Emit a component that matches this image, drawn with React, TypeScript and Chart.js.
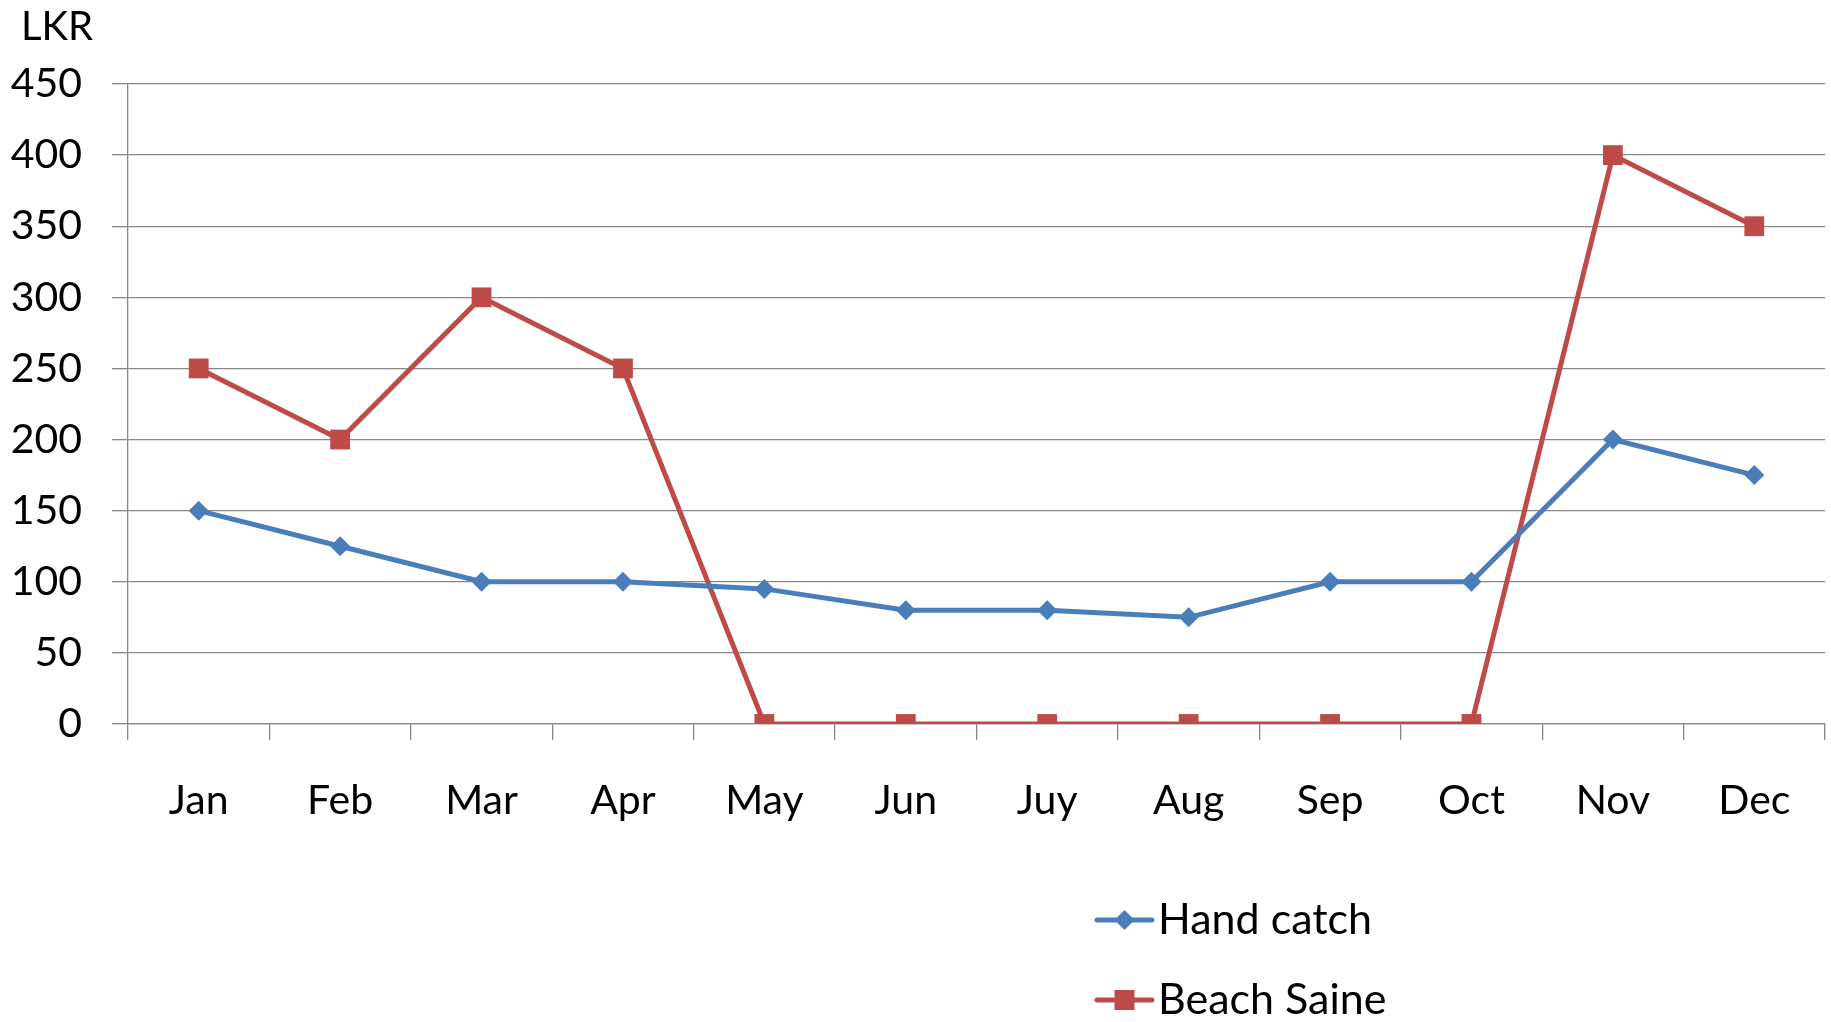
import React, { useEffect, useRef } from "react";
import { Chart, registerables } from "chart.js";

Chart.register(...registerables);

const months = ["Jan", "Feb", "Mar", "Apr", "May", "Jun", "Juy", "Aug", "Sep", "Oct", "Nov", "Dec"];
const handCatch = [150, 125, 100, 100, 95, 80, 80, 75, 100, 100, 200, 175];
const beachSaine = [250, 200, 300, 250, 0, 0, 0, 0, 0, 0, 400, 350];
const seriesNames = ["Hand catch", "Beach Saine"];
const yTitle = "LKR";

const BLUE = "#4A7EBB";
const RED = "#BE4B48";
const GRID = "#878787";
const FONT = "Lato, 'Noto Sans', sans-serif";

const W = 1831;
const H = 1022;

const extrasPlugin = {
  id: "extras",
  afterDraw(chart: any) {
    const ctx = chart.ctx;
    ctx.save();
    // axis unit label
    ctx.fillStyle = "#000";
    ctx.font = `40px ${FONT}`;
    ctx.textAlign = "left";
    ctx.textBaseline = "middle";
    ctx.fillText(yTitle, 21, 27);

    // stacked legend
    const rows = [920, 1000];
    chart.data.datasets.forEach((ds: any, i: number) => {
      const y = rows[i];
      const x0 = 1097;
      const x1 = 1152;
      ctx.strokeStyle = ds.borderColor;
      ctx.lineWidth = 5;
      ctx.lineCap = "round";
      ctx.beginPath();
      ctx.moveTo(x0, y);
      ctx.lineTo(x1, y);
      ctx.stroke();
      ctx.fillStyle = ds.borderColor;
      const cx = (x0 + x1) / 2;
      ctx.beginPath();
      if (ds.pointStyle === "rectRot") {
        const r = 10;
        ctx.moveTo(cx - r, y);
        ctx.lineTo(cx, y - r);
        ctx.lineTo(cx + r, y);
        ctx.lineTo(cx, y + r);
        ctx.closePath();
      } else {
        const s = 10;
        ctx.rect(cx - s, y - s, 2 * s, 2 * s);
      }
      ctx.fill();
      ctx.fillStyle = "#000";
      ctx.font = `43px ${FONT}`;
      ctx.textAlign = "left";
      ctx.textBaseline = "middle";
      ctx.fillText(ds.label, 1158, y);
    });
    ctx.restore();
  },
};

export default function App() {
  const ref = useRef<HTMLCanvasElement | null>(null);

  useEffect(() => {
    if (!ref.current) return;
    const chart = new Chart(ref.current, {
      type: "line",
      data: {
        labels: months,
        datasets: [
          {
            label: seriesNames[0],
            data: handCatch,
            borderColor: BLUE,
            backgroundColor: BLUE,
            borderWidth: 5,
            pointStyle: "rectRot",
            pointRadius: 10,
            pointBorderWidth: 0,
            pointBackgroundColor: BLUE,
            tension: 0,
          },
          {
            label: seriesNames[1],
            data: beachSaine,
            borderColor: RED,
            backgroundColor: RED,
            borderWidth: 5,
            pointStyle: "rect",
            pointRadius: 14,
            pointBorderWidth: 0,
            pointBackgroundColor: RED,
            tension: 0,
          },
        ],
      },
      options: {
        responsive: false,
        animation: false,
        layout: { autoPadding: false, padding: { left: 0, top: 84, right: 6, bottom: 178 } },
        plugins: {
          legend: { display: false },
          tooltip: { enabled: false },
          title: { display: false },
        },
        scales: {
          x: {
            type: "category",
            offset: true,
            afterFit(scale: any) {
              scale.height = 120;
              scale.paddingLeft = 0;
              scale.paddingRight = 0;
            },
            grid: {
              display: true,
              drawOnChartArea: false,
              drawTicks: true,
              tickLength: 16,
              offset: true,
              color: GRID,
              lineWidth: 1.3,
            },
            border: { display: true, color: GRID, width: 1.3 },
            ticks: {
              color: "#000",
              font: { family: FONT, size: 41 },
              padding: 36,
              maxRotation: 0,
              autoSkip: false,
            },
          },
          y: {
            min: 0,
            max: 450,
            afterFit(scale: any) {
              scale.width = 128;
              scale.paddingTop = 0;
              scale.paddingBottom = 0;
            },
            grid: {
              color: GRID,
              lineWidth: 1.3,
              drawTicks: true,
              tickLength: 16,
            },
            border: { display: true, color: GRID, width: 1.3 },
            ticks: {
              stepSize: 50,
              color: "#000",
              font: { family: FONT, size: 41 },
              padding: 30,
            },
          },
        },
      },
      plugins: [extrasPlugin],
    });
    return () => chart.destroy();
  }, []);

  return (
    <div style={{ position: "fixed", left: 0, top: 0, width: W, height: H, background: "#fff" }}>
      <canvas ref={ref} width={W} height={H} style={{ display: "block", width: W, height: H }} />
    </div>
  );
}
